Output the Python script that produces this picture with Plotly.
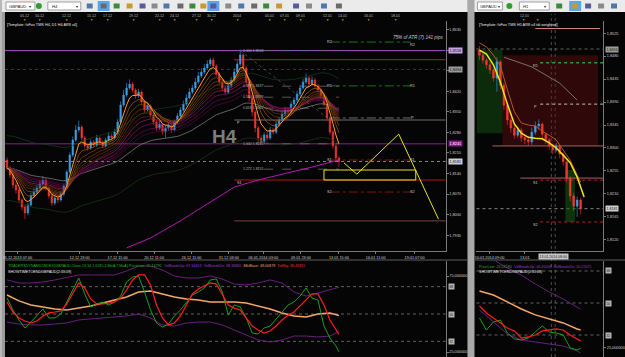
import plotly.graph_objects as go
import pandas as pd

W, H = 625, 357
FONT = "Liberation Sans, Arial, sans-serif"

# ============================ DATA ============================
# ---- Left window: GBPAUD H4 (bar index 0..111) ----
L_OPEN_FIRST = 1.8186
L_CLOSE = [1.8159, 1.8135, 1.8101, 1.8084, 1.8050, 1.8026, 1.8006, 1.8033, 1.8064, 1.8077,
           1.8091, 1.8104, 1.8118, 1.8091, 1.8064, 1.8040, 1.8057, 1.8050, 1.8070, 1.8098,
           1.8145, 1.8203, 1.8254, 1.8288, 1.8298, 1.8261, 1.8234, 1.8227, 1.8247, 1.8237,
           1.8261, 1.8247, 1.8234, 1.8254, 1.8268, 1.8261, 1.8281, 1.8315, 1.8373, 1.8407,
           1.8431, 1.8444, 1.8424, 1.8404, 1.8417, 1.8383, 1.8356, 1.8370, 1.8339, 1.8315,
           1.8295, 1.8308, 1.8281, 1.8295, 1.8302, 1.8288, 1.8315, 1.8336, 1.8356, 1.8376,
           1.8397, 1.8417, 1.8431, 1.8451, 1.8472, 1.8485, 1.8499, 1.8512, 1.8526, 1.8506,
           1.8478, 1.8451, 1.8431, 1.8417, 1.8438, 1.8458, 1.8485, 1.8512, 1.8543, 1.8499,
           1.8451, 1.8397, 1.8349, 1.8295, 1.8261, 1.8247, 1.8271, 1.8261, 1.8288, 1.8281,
           1.8308, 1.8322, 1.8342, 1.8356, 1.8349, 1.8376, 1.8390, 1.8410, 1.8431, 1.8451,
           1.8465, 1.8444, 1.8458, 1.8438, 1.8424, 1.8404, 1.8376, 1.8329, 1.8281, 1.8234,
           1.8193, 1.8181]
L_HIGH = [1.8195, 1.8166, 1.8142, 1.8110, 1.8092, 1.8058, 1.8033, 1.8040, 1.8075, 1.8090,
          1.8102, 1.8118, 1.8132, 1.8125, 1.8096, 1.8070, 1.8066, 1.8064, 1.8078, 1.8106,
          1.8152, 1.8212, 1.8266, 1.8305, 1.8320, 1.8304, 1.8268, 1.8242, 1.8256, 1.8255,
          1.8272, 1.8266, 1.8252, 1.8262, 1.8280, 1.8276, 1.8292, 1.8325, 1.8385, 1.8425,
          1.8448, 1.8460, 1.8452, 1.8430, 1.8428, 1.8422, 1.8390, 1.8380, 1.8375, 1.8345,
          1.8322, 1.8318, 1.8312, 1.8304, 1.8312, 1.8308, 1.8324, 1.8346, 1.8366, 1.8388,
          1.8410, 1.8430, 1.8442, 1.8465, 1.8485, 1.8498, 1.8512, 1.8525, 1.8533, 1.8534,
          1.8512, 1.8485, 1.8458, 1.8440, 1.8447, 1.8468, 1.8497, 1.8525, 1.8562, 1.8548,
          1.8505, 1.8458, 1.8405, 1.8355, 1.8302, 1.8270, 1.8280, 1.8282, 1.8298, 1.8296,
          1.8318, 1.8332, 1.8352, 1.8366, 1.8365, 1.8386, 1.8400, 1.8420, 1.8442, 1.8462,
          1.8480, 1.8472, 1.8470, 1.8465, 1.8445, 1.8430, 1.8410, 1.8382, 1.8335, 1.8288,
          1.8240, 1.8200]
L_LOW = [1.8150, 1.8125, 1.8090, 1.8072, 1.8041, 1.8015, 1.7985, 1.7998, 1.8028, 1.8058,
         1.8070, 1.8085, 1.8098, 1.8082, 1.8055, 1.8030, 1.8032, 1.8040, 1.8044, 1.8063,
         1.8092, 1.8140, 1.8196, 1.8248, 1.8280, 1.8252, 1.8225, 1.8218, 1.8220, 1.8228,
         1.8230, 1.8240, 1.8226, 1.8228, 1.8248, 1.8252, 1.8255, 1.8274, 1.8308, 1.8366,
         1.8400, 1.8425, 1.8415, 1.8394, 1.8398, 1.8375, 1.8346, 1.8350, 1.8330, 1.8305,
         1.8285, 1.8288, 1.8272, 1.8262, 1.8285, 1.8278, 1.8282, 1.8308, 1.8330, 1.8350,
         1.8370, 1.8392, 1.8410, 1.8425, 1.8445, 1.8465, 1.8478, 1.8492, 1.8505, 1.8498,
         1.8470, 1.8442, 1.8420, 1.8408, 1.8410, 1.8430, 1.8450, 1.8478, 1.8505, 1.8490,
         1.8440, 1.8385, 1.8335, 1.8280, 1.8245, 1.8240, 1.8242, 1.8252, 1.8255, 1.8272,
         1.8275, 1.8300, 1.8315, 1.8335, 1.8340, 1.8342, 1.8368, 1.8382, 1.8404, 1.8425,
         1.8445, 1.8436, 1.8438, 1.8430, 1.8415, 1.8395, 1.8368, 1.8320, 1.8272, 1.8225,
         1.8185, 1.8162]

L_TIME_TICK_BARS = [3.5, 24.3, 37.0, 49.2, 61.7, 74.2, 85.7, 98.3, 111.0, 123.3, 136.3]
L_TIME_TICK_TEXT = ["05.12.2013 07:00", "12.12 23:00", "17.12 15:00", "20.12 11:00", "26.12 11:00",
                    "31.12 03:00", "06.01.2014 03:00", "09.01 23:00", "13.01 15:00", "16.01 11:00",
                    "19.01 07:00"]
L_PRICE_TICKS = [1.8630, 1.8560, 1.8490, 1.8420, 1.8350, 1.8280, 1.8210, 1.8140, 1.8070, 1.8000, 1.7930]
L_STRIP_BARS = [5.7, 11, 20, 28.3, 33.7, 42.3, 51, 56, 63.3, 68.3, 77, 87.7, 92.7, 98.3, 107.3, 112.3, 121, 130]
L_STRIP_TEXT = ["05.12", "10.12", "12.12", "15.12", "17.12", "19.12", "22.12", "24.12", "27.12", "30.12",
                "2014", "05.01", "07.01", "09.01", "12.01", "14.01", "16.01", "18.01"]

# slow magenta average
L_SLOW_BARS = [40, 48, 58, 68, 76, 84, 94, 102, 111]
L_SLOW_VALS = [1.7887, 1.7921, 1.7979, 1.8043, 1.8094, 1.8118, 1.8142, 1.8162, 1.8186]

# horizontal levels
L_HI_LINE = 1.8558
L_GREY_LINE = 1.8494
L_LO_LINE = 1.8241
L_CURRENT = 1.8181
W_R1, W_P, W_S1, W_S2 = 1.8527, 1.8322, 1.8118, 1.7979
D_R2, D_R1, D_P, D_S1, D_S2 = 1.8587, 1.8438, 1.8329, 1.8186, 1.8077
FIB_HIGH, FIB_LOW = 1.8558, 1.8241
FIB_RATIOS = [0.0, 0.382, 0.5, 0.618, 1.0, 1.272]
FIB_TREND = ([78, 108], [1.8558, 1.8322])

# projected path & target zone
PROJ_BARS = [112.7, 117, 131, 136.7, 144.3]
PROJ_VALS = [1.8176, 1.8138, 1.8274, 1.8152, 1.7985]
ZONE = [106, 136.7, 1.8118, 1.8152]

# ---- Left indicator: Traders Dynamic Index ----
TDI_BARS = list(range(0, 112, 2)) + [111]
TDI_PRICE = [60.5, 52.6, 46.1, 40.8, 44.7, 48.7, 53.3, 47.4, 47.4, 50.0,
             57.9, 66.4, 73.7, 63.2, 54.6, 56.6, 57.9, 55.9, 57.9, 61.8,
             71.1, 74.3, 75.0, 64.5, 52.6, 44.1, 41.4, 43.4, 48.7, 52.6,
             57.2, 62.5, 64.5, 67.1, 72.4, 73.0, 64.5, 49.3, 55.9, 54.6,
             47.4, 37.5, 36.8, 40.8, 42.1, 46.7, 52.0, 55.9, 57.9, 61.8,
             67.1, 60.5, 59.2, 42.1, 34.2, 29.0, 25.2]
TDI_SIGNAL = [57.9, 51.3, 47.4, 45.4, 44.1, 45.4, 48.7, 50.7, 51.3, 52.0,
              56.6, 63.2, 70.4, 67.1, 59.9, 56.6, 56.6, 57.2, 57.9, 60.5,
              65.8, 72.4, 75.7, 75.7, 69.1, 55.9, 47.4, 42.8, 44.1, 48.7,
              55.9, 63.2, 66.4, 68.4, 70.4, 69.7, 63.2, 55.9, 53.9, 52.6,
              47.4, 42.1, 39.5, 37.5, 38.8, 42.1, 46.1, 49.3, 51.3, 55.3,
              59.2, 63.2, 63.2, 55.9, 46.0, 39.0, 36.5]
TDI_BARS4 = list(range(0, 112, 4)) + [111]
TDI_BASE = [62.5, 58.6, 55.9, 54.6, 53.3, 52.6, 53.9, 55.3, 57.2, 59.2, 61.2, 64.5, 65.1, 63.2,
            61.2, 59.9, 59.2, 57.9, 57.9, 57.9, 57.2, 55.3, 53.3, 50.7, 48.7, 48.0, 50.0, 50.7, 49.0]
TDI_UP = [72.4, 70.4, 70.4, 71.1, 72.4, 74.3, 75.7, 75.7, 75.7, 75.7, 78.3, 81.6, 81.6, 78.9,
          75.0, 73.7, 73.7, 75.0, 73.0, 69.7, 69.1, 70.4, 72.4, 70.4, 64.5, 61.8, 63.8, 65.8, 67.6]
TDI_DN = [44.7, 43.4, 42.8, 42.8, 43.4, 44.1, 46.1, 46.7, 47.4, 48.0, 48.7, 50.0, 47.4, 42.8,
          42.1, 44.1, 44.7, 44.7, 42.8, 39.5, 36.2, 32.9, 31.6, 32.9, 35.5, 35.5, 34.9, 35.5, 38.4]
TDI_LEVELS = [68, 50, 32]

# ---- Right window: GBPAUD H1 (bar index 0..29) ----
R_OPEN_FIRST = 1.8492
R_CLOSE = [1.8482, 1.8472, 1.8463, 1.8453, 1.8437, 1.8469, 1.8423, 1.8384, 1.8355, 1.8339,
           1.8325, 1.8335, 1.8320, 1.8316, 1.8312, 1.8331, 1.8343, 1.8347, 1.8327, 1.8316,
           1.8304, 1.8296, 1.8304, 1.8288, 1.8273, 1.8241, 1.8206, 1.8186, 1.8198, 1.8181]
R_HIGH = [1.8500, 1.8486, 1.8476, 1.8468, 1.8458, 1.8478, 1.8472, 1.8428, 1.8390, 1.8360,
          1.8345, 1.8342, 1.8340, 1.8326, 1.8322, 1.8340, 1.8352, 1.8356, 1.8350, 1.8330,
          1.8320, 1.8308, 1.8310, 1.8306, 1.8292, 1.8275, 1.8245, 1.8212, 1.8205, 1.8202]
R_LOW = [1.8472, 1.8465, 1.8455, 1.8445, 1.8430, 1.8410, 1.8415, 1.8375, 1.8345, 1.8330,
         1.8318, 1.8320, 1.8312, 1.8308, 1.8304, 1.8306, 1.8326, 1.8336, 1.8320, 1.8308,
         1.8296, 1.8288, 1.8292, 1.8280, 1.8265, 1.8232, 1.8196, 1.8176, 1.8165, 1.8170]
R_TIME_TICK_BARS = [2.9, 13.0]
R_TIME_TICK_TEXT = ["10.01.2014 09:00", "13.01"]
R_PRICE_TICKS = [1.8525, 1.8480, 1.8435, 1.8390, 1.8345, 1.8300, 1.8255, 1.8210, 1.8165, 1.8120]
R_YEL_BARS = [0, 2, 4, 6, 8, 10, 12, 14, 16, 18, 20, 22, 24, 26, 28, 30]
R_YEL_VALS = [1.8492, 1.8484, 1.8463, 1.8429, 1.8386, 1.8347, 1.8329, 1.8321, 1.8319, 1.8318,
              1.8310, 1.8300, 1.8286, 1.8271, 1.8243, 1.8204]
R_ORG_BARS = [0, 2, 4, 6, 8, 10, 12, 14, 16, 18, 20, 22, 24, 26, 28, 29]
R_ORG_VALS = [1.8506, 1.8498, 1.8482, 1.8461, 1.8414, 1.8371, 1.8349, 1.8345, 1.8343, 1.8333,
              1.8325, 1.8316, 1.8296, 1.8276, 1.8247, 1.8233]
R_GREY_BARS = [7, 15, 23, 28]
R_GREY_VALS = [1.8478, 1.8459, 1.8427, 1.8394]
R_GREY_LINE, R_CURRENT = 1.8494, 1.8181
R_R1, R_P, R_S1, R_S2 = 1.8467, 1.8386, 1.8237, 1.8155
R_SALMON = [(3.7, 1.8304), (11.7, 1.8241)]
R_ZONES = [(-0.86, 6.6, 1.8329, 1.8492, "rgba(20,90,20,0.45)"),
           (6.6, 34.0, 1.8304, 1.8482, "rgba(110,15,15,0.40)"),
           (24.6, 27.4, 1.8155, 1.8257, "rgba(20,90,20,0.55)")]
R_SEPARATORS = [20.6, 21.7]

# ---- Right indicator ----
RT_BARS = list(range(0, 30, 2)) + [29]
RT_PRICE = [41.6, 34.8, 39.3, 40.4, 33.1, 29.8, 29.2, 30.3, 33.7, 37.1, 33.7, 33.1, 32.0, 24.7, 23.6, 24.5]
RT_SIGNAL = [48.3, 44.4, 41.6, 38.8, 35.9, 34.3, 30.3, 30.9, 32.0, 34.3, 34.8, 35.4, 34.8, 32.0, 29.8, 28.6]
RT_BASE_BARS = [0, 4, 8, 12, 16, 20, 24, 28, 29]
RT_BASE = [56.7, 54.5, 50.6, 46.6, 43.3, 41.0, 38.8, 35.4, 34.8]
RT_UP_BARS = [2, 4, 6, 8, 12, 16, 20, 24, 28, 29]
RT_UP = [77.0, 74.2, 71.9, 69.7, 65.7, 60.7, 56.2, 52.2, 47.8, 46.5]
RT_DN_BARS = [0, 4, 8, 12, 16, 20, 24, 28, 29]
RT_DN = [46.1, 39.3, 32.6, 29.2, 28.1, 26.9, 25.8, 23.0, 21.9]

# ============================ FIGURE ============================
def px(x):
    return x / W


def py(y):
    return 1 - y / H


L_XR = [-0.667, 146.67]
R_XR = [-0.857, 35.43]
L_YR = [1.78766, 1.86586]
R_YR = [1.80981, 1.85489]
LI_YR = [21.71, 84.87]
RI_YR = [19.63, 73.62]

AX = "#7a7a7a"
TXT = "#cfcfcf"
BLUE = "#3d9fe6"
RED = "#f2392f"

fig = go.Figure()


def line(x, y, color, width=1, xa="x", ya="y", dash="solid"):
    fig.add_trace(go.Scatter(x=x, y=y, mode="lines", xaxis=xa, yaxis=ya,
                             line=dict(color=color, width=width, dash=dash),
                             hoverinfo="skip", showlegend=False))


# --- left main: moving averages derived from the candles ---
bars = list(range(len(L_CLOSE)))
cs = pd.Series(L_CLOSE)


def ema(n):
    return cs.ewm(span=n, adjust=False).mean()


env_mid = ema(60)
line(bars, (env_mid + 0.0110).tolist(), "#1a3e1a", 0.7)
line(bars, (env_mid - 0.0110).tolist(), "#1a3e1a", 0.7)
line(bars, ema(55).tolist(), "#8a8a8a", 0.7)
for n, c in [(40, "#520a44"), (34, "#6c0c54"), (28, "#8a1264"), (23, "#ad1874")]:
    line(bars, ema(n).tolist(), c, 0.7)
for n, c in [(20, "#5a2a08"), (17, "#6e340a"), (14, "#80400c"), (11, "#94500e"), (8, "#a85e12")]:
    line(bars, ema(n).tolist(), c, 0.7)
line(L_SLOW_BARS, L_SLOW_VALS, "#b01cb0", 1)

opens = [L_OPEN_FIRST] + L_CLOSE[:-1]
fig.add_trace(go.Candlestick(x=bars, open=opens, high=L_HIGH, low=L_LOW, close=L_CLOSE,
                             xaxis="x", yaxis="y", whiskerwidth=0,
                             increasing=dict(line=dict(color=BLUE, width=0.6), fillcolor=BLUE),
                             decreasing=dict(line=dict(color=RED, width=0.6), fillcolor=RED),
                             hoverinfo="skip", showlegend=False))
line(bars, ema(5).tolist(), "#ff9c2a", 1)
line(FIB_TREND[0], FIB_TREND[1], "#5e5e5e", 0.7, dash="dot")
line(PROJ_BARS, PROJ_VALS, "#e8e41c", 1)

# --- left indicator ---
line(TDI_BARS4, TDI_UP, "#6a1f7c", 1, "x2", "y2")
line(TDI_BARS4, TDI_DN, "#6a1f7c", 1, "x2", "y2")
line(TDI_BARS4, TDI_BASE, "#f2a868", 1.5, "x2", "y2")
line(TDI_BARS, TDI_PRICE, "#1aa01a", 1, "x2", "y2")
line(TDI_BARS, TDI_SIGNAL, "#ff1e1e", 1.2, "x2", "y2")

# --- right main ---
rbars = list(range(len(R_CLOSE)))
line(R_GREY_BARS, R_GREY_VALS, "#8a8a8a", 0.8, "x3", "y3")
ropens = [R_OPEN_FIRST] + R_CLOSE[:-1]
fig.add_trace(go.Candlestick(x=rbars, open=ropens, high=R_HIGH, low=R_LOW, close=R_CLOSE,
                             xaxis="x3", yaxis="y3", whiskerwidth=0,
                             increasing=dict(line=dict(color=BLUE, width=0.6), fillcolor=BLUE),
                             decreasing=dict(line=dict(color=RED, width=0.6), fillcolor=RED),
                             hoverinfo="skip", showlegend=False))
line(R_ORG_BARS, R_ORG_VALS, "#b8581a", 1, "x3", "y3")
line(R_YEL_BARS, R_YEL_VALS, "#f0e41e", 1.5, "x3", "y3")

# --- right indicator ---
line(RT_UP_BARS, RT_UP, "#6a1f7c", 1, "x4", "y4")
line(RT_DN_BARS, RT_DN, "#6a1f7c", 1, "x4", "y4")
line(RT_BASE_BARS, RT_BASE, "#f2a868", 1.5, "x4", "y4")
line(RT_BARS, RT_PRICE, "#1aa01a", 1, "x4", "y4")
line(RT_BARS, RT_SIGNAL, "#ff1e1e", 1.2, "x4", "y4")

# ============================ SHAPES ============================
shapes = []


def rect_px(x0, y0, x1, y1, fill, border=None, bw=0.8, layer="below"):
    shapes.append(dict(type="rect", xref="paper", yref="paper", x0=px(x0), x1=px(x1),
                       y0=py(y1), y1=py(y0), fillcolor=fill, layer=layer,
                       line=dict(width=bw if border else 0, color=border or fill)))


def seg(xref, yref, x0, x1, y0, y1, color, width=1, dash="solid", layer="below"):
    shapes.append(dict(type="line", xref=xref, yref=yref, x0=x0, x1=x1, y0=y0, y1=y1,
                       line=dict(color=color, width=width, dash=dash), layer=layer))


# window chrome
rect_px(0, 0, 467, 12, "#ebebeb")
rect_px(470, 0, 625, 12, "#ebebeb")
rect_px(467, 0, 474, 357, "#a9a9a9")
rect_px(0, 12, 3, 357, "#9c9c9c")
rect_px(3, 12, 467, 357, "#050505")
rect_px(474, 12, 625, 357, "#050505")
# toolbar widgets
rect_px(4, 2, 33, 10, "#ffffff", "#8a8a8a")
rect_px(46, 2, 79, 10, "#ffffff", "#8a8a8a")
rect_px(477, 2, 502, 10, "#ffffff", "#8a8a8a")
rect_px(519, 2, 549, 10, "#ffffff", "#8a8a8a")
shapes.append(dict(type="circle", xref="paper", yref="paper", x0=px(34), x1=px(40), y0=py(9), y1=py(3),
                   fillcolor="#2e9e2e", line=dict(width=0), layer="below"))
shapes.append(dict(type="circle", xref="paper", yref="paper", x0=px(506), x1=px(512), y0=py(9), y1=py(3),
                   fillcolor="#2e9e2e", line=dict(width=0), layer="below"))
for hx in [96, 206, 569]:
    rect_px(hx, 1, hx + 12, 11, "#5aa6ee")
icon_cols = ["#4f78a8", "#6a6a6a", "#3a8a3a", "#c89a28", "#5a5a9a", "#8a8a8a"]
left_icons = [85, 99, 112, 125, 138, 150, 162, 176, 188, 199, 209, 224, 237, 250, 262, 275, 292, 305, 320, 335]
for k, ix in enumerate(left_icons):
    rect_px(ix, 3.5, ix + 6, 8.5, icon_cols[k % len(icon_cols)])
for k, ix in enumerate([556, 572, 585, 598, 611]):
    rect_px(ix, 3.5, ix + 6, 8.5, icon_cols[(k + 2) % len(icon_cols)])

# panel separators
seg("paper", "paper", px(3), px(467), py(260), py(260), "#5e5e5e", 1)
seg("paper", "paper", px(474), px(625), py(260), py(260), "#5e5e5e", 1)

# left horizontal levels
seg("x domain", "y", 0, 1, L_HI_LINE, L_HI_LINE, "#9a55c8", 1)
seg("x domain", "y", 0, 1, L_GREY_LINE, L_GREY_LINE, "#4a4a4a", 0.8, "dot")
seg("x", "y", 76, L_XR[1], W_R1, W_R1, "#7a3a2c", 1)
seg("x", "y", 76, L_XR[1], W_P, W_P, "#6e6e6e", 1)
seg("x domain", "y", 0, 1, L_LO_LINE, L_LO_LINE, "#8c1a8c", 1)
seg("x domain", "y", 0, 1, L_CURRENT, L_CURRENT, "#a8a8a8", 0.8, "dot")
seg("x", "y", 76, L_XR[1], W_S1, W_S1, "#b41414", 1)
seg("x", "y", 76, L_XR[1], W_S2, W_S2, "#7a4444", 1)
for lv, col in [(D_R2, "#2a8a2a"), (D_R1, "#2a8a2a"), (D_P, "#8a8a8a"), (D_S1, "#a01818"), (D_S2, "#a01818")]:
    seg("x", "y", 108.3, 135.0, lv, lv, col, 0.8, "dashdot")
for r in FIB_RATIOS:
    lv = FIB_HIGH - r * (FIB_HIGH - FIB_LOW)
    seg("x", "y", 86, 111, lv, lv, "#6c6c6c", 0.8, "dash")
shapes.append(dict(type="rect", xref="x", yref="y", x0=ZONE[0], x1=ZONE[1], y0=ZONE[2], y1=ZONE[3],
                   line=dict(color="#e8e41c", width=1), fillcolor="rgba(0,0,0,0)", layer="above"))
# left indicator levels
for lv in TDI_LEVELS:
    seg("x2 domain", "y2", 0, 1, lv, lv, "#7a7a7a", 0.8, "dot")

# right zones and levels
for x0, x1, y0, y1, col in R_ZONES:
    shapes.append(dict(type="rect", xref="x3", yref="y3", x0=x0, x1=x1, y0=y0, y1=y1,
                       fillcolor=col, line=dict(width=0), layer="below"))
seg("x3 domain", "y3", 0, 1, R_GREY_LINE, R_GREY_LINE, "#7a7a7a", 0.8, "dot")
seg("x3 domain", "y3", 0, 1, R_CURRENT, R_CURRENT, "#a8a8a8", 0.8, "dot")
for x0, lv in R_SALMON:
    seg("x3", "y3", x0, R_XR[1], lv, lv, "#a86060", 1)
seg("x3", "y3", 17.4, R_XR[1], R_R1, R_R1, "#2aa02a", 1.5, "dot")
seg("x3", "y3", 17.4, R_XR[1], R_P, R_P, "#c0c0c0", 1, "dot")
seg("x3", "y3", 17.4, R_XR[1], R_S1, R_S1, "#c02020", 1, "dot")
seg("x3", "y3", 17.4, R_XR[1], R_S2, R_S2, "#c02020", 1, "dot")
for sx in R_SEPARATORS:
    seg("x3", "paper", sx, sx, 0, py(14), "#5e5e5e", 0.8, "dot")
for lv in TDI_LEVELS:
    seg("x4 domain", "y4", 0, 1, lv, lv, "#7a7a7a", 0.8, "dot")
seg("paper", "paper", px(535), px(600), py(28.5), py(28.5), "#d88080", 1)

# ============================ ANNOTATIONS ============================
anns = []


def text(x, y, s, size=3.8, color=TXT, xref="paper", yref="paper", xanchor="left",
         yanchor="middle", bg=None, **kw):
    a = dict(x=x, y=y, xref=xref, yref=yref, text=s, showarrow=False, xanchor=xanchor,
             yanchor=yanchor, font=dict(size=size, color=color, family=FONT), borderpad=0)
    if bg:
        a["bgcolor"] = bg
        a["borderpad"] = 0.6
    a.update(kw)
    anns.append(a)


# toolbar text
text(px(6), py(6.2), "GBPAUD  \u25be", 4.2, "#202020")
text(px(49), py(6.2), "H4", 4.2, "#202020")
text(px(73), py(6.2), "\u25be", 4.2, "#202020")
text(px(479), py(6.2), "GBPAUD \u25be", 4.0, "#202020")
text(px(522), py(6.2), "H1", 4.2, "#202020")
text(px(543), py(6.2), "\u25be", 4.2, "#202020")

# top date strips
for b, s in zip(L_STRIP_BARS, L_STRIP_TEXT):
    text(b, py(16), s, 3.6, "#bdbdbd", xref="x", xanchor="center")
    text(b, py(19.6), "\u25bc", 3.2, "#d8a800", xref="x", xanchor="center")
text(px(524), py(16), "12.01", 3.6, "#bdbdbd", xanchor="center")
text(px(523), py(19.6), "\u25bc", 3.2, "#d8a800", xanchor="center")
text(px(537), py(19.6), "\u25bc", 3.2, "#d8a800", xanchor="center")

# templates & watermark
text(px(4), py(25), "[Template: fxFox TMS H4, D1 H4 AR8 v4]", 3.8, "#e8e8e8")
text(px(478), py(25), "[Template: fxFox TMS H1 AR8 v4 tdi weighted]", 3.8, "#e8e8e8")
text(px(223), py(136), "<b>H4</b>", 19, "#7c7c7c", xanchor="center")
text(px(443), py(37.5), "<i>75% of ATR (7) 141 pips</i>", 4.6, "#c8c8c8", xanchor="right")

# pivot labels
text(107.7, D_R2, "R2", 3.8, "#c8c8c8", xref="x", yref="y", xanchor="center")
text(135.7, D_R2, "R2", 3.8, "#c8c8c8", xref="x", yref="y", xanchor="center", yanchor="top")
for lv, lab in [(D_R1, "R1"), (D_S1, "S1"), (D_S2, "S2")]:
    text(107.7, lv, lab, 3.8, "#c8c8c8", xref="x", yref="y", xanchor="center")
    text(135.7, lv, lab, 3.8, "#c8c8c8", xref="x", yref="y", xanchor="center")
text(135.7, D_P, "P", 3.8, "#c8c8c8", xref="x", yref="y", xanchor="center")
text(76.5, W_P, "P", 3.8, "#c8c8c8", xref="x", yref="y", xanchor="left", yanchor="top")
text(76.5, W_S1, "S1", 3.8, "#c8c8c8", xref="x", yref="y", xanchor="left", yanchor="top")

# fibonacci labels
for r in FIB_RATIOS:
    lv = FIB_HIGH - r * (FIB_HIGH - FIB_LOW)
    lab = f"{r:.3f} {lv:.4f}"
    text(78.5, lv, lab, 3.5, "#b0b0b0", xref="x", yref="y", xanchor="left", yanchor="middle")

# right-axis price boxes (left window)
text(px(447), L_HI_LINE, "1,8558", 3.8, "#101010", yref="y", bg="#c9a2e2")
text(px(447), L_GREY_LINE, "1,8494", 3.8, "#101010", yref="y", bg="#9c9c9c")
text(px(447), L_LO_LINE, "1,8241", 3.8, "#ffffff", yref="y", bg="#8a1a8a")
text(px(447), L_CURRENT, "1,8181", 3.8, "#101010", yref="y", bg="#cfcfcf")

# right window labels
for lv, lab in [(R_R1, "R1"), (R_P, "P"), (R_S1, "S1"), (R_S2, "S2")]:
    text(16.0, lv, lab, 3.8, "#c8c8c8", xref="x3", yref="y3", xanchor="center", yanchor="top")
text(px(605), R_GREY_LINE, "1,8494", 3.6, "#101010", yref="y3", bg="#9c9c9c")
text(px(605), R_CURRENT, "1,8181", 3.6, "#101010", yref="y3", bg="#cfcfcf")
text(21.1, py(256), "13.01.2014 08:00", 3.5, "#101010", xref="x3", xanchor="center", bg="#c8c8c8")

# indicator headers
hdr_l = ('<span style="color:#22b022">TRADERSDYNAMICINDEX(GBPAUD,Close,13,34,1.6185,2,MoA,7,MoA) '
         'PriceLine: 25,16791</span>  <span style="color:#9a3ac0">VolBandsUp: 67,64413  '
         'VolBandsDn: 38,36865</span>  <span style="color:#f0a060">MktBase: 49,00879</span>  '
         '<span style="color:#ff2a2a">TrdSig: 36,45811</span>')
text(px(5), py(266), hdr_l, 3.7)
text(px(5), py(271.5), "SHOWTIMETOENDGBPAUD(2:33:09)", 3.7, "#f0f0f0")
hdr_r = ('<span style="color:#22b022">PriceLine: 24,52180</span>  <span style="color:#9a3ac0">'
         'VolBandsUp: 46,45058  VolBandsDn: 20,22071</span>')
text(px(478), py(266.5), hdr_r, 3.7)
text(px(478), py(271.5), "SHOWTIMETOENDGBPAUD(0:33:08)", 3.7, "#f0f0f0")

# indicator level boxes
for lv in TDI_LEVELS:
    text(px(447), lv, str(lv), 3.2, "#101010", yref="y2", bg="#b4b4b4")
    text(px(605), lv, str(lv), 3.2, "#101010", yref="y4", bg="#b4b4b4")


def fmt(v):
    return f"{v:.4f}".replace(".", ",")


axis_common = dict(showgrid=False, zeroline=False, fixedrange=True)
tickfont = dict(size=3.8, color=TXT, family=FONT)

fig.update_layout(
    width=W, height=H, margin=dict(l=0, r=0, t=0, b=0),
    paper_bgcolor="#b8b8b8", plot_bgcolor="rgba(0,0,0,0)",
    showlegend=False, hovermode=False,
    shapes=shapes, annotations=anns,
    xaxis=dict(domain=[px(3), px(445)], range=L_XR, anchor="y", showline=True, linecolor=AX,
               tickmode="array", tickvals=L_TIME_TICK_BARS, ticktext=L_TIME_TICK_TEXT,
               ticks="outside", ticklen=2, tickcolor=AX, tickfont=tickfont,
               rangeslider=dict(visible=False), **axis_common),
    yaxis=dict(domain=[py(251), py(21)], range=L_YR, anchor="x", side="right", showline=True,
               linecolor=AX, tickmode="array", tickvals=L_PRICE_TICKS,
               ticktext=[fmt(v) for v in L_PRICE_TICKS], ticks="outside", ticklen=2,
               tickcolor=AX, tickfont=tickfont, **axis_common),
    xaxis2=dict(domain=[px(3), px(445)], range=L_XR, anchor="y2", showline=False,
                showticklabels=False, ticks="", **axis_common),
    yaxis2=dict(domain=[0, py(261)], range=LI_YR, anchor="x2", side="right", showline=True,
                linecolor=AX, tickmode="array", tickvals=[75, 25],
                ticktext=["75,000000", "25,000000"], ticks="outside", ticklen=2,
                tickcolor=AX, tickfont=tickfont, **axis_common),
    xaxis3=dict(domain=[px(476), px(603)], range=R_XR, anchor="y3", showline=True, linecolor=AX,
                tickmode="array", tickvals=R_TIME_TICK_BARS, ticktext=R_TIME_TICK_TEXT,
                ticks="outside", ticklen=2, tickcolor=AX, tickfont=tickfont,
                rangeslider=dict(visible=False), **axis_common),
    yaxis3=dict(domain=[py(251), py(21)], range=R_YR, anchor="x3", side="right", showline=True,
                linecolor=AX, tickmode="array", tickvals=R_PRICE_TICKS,
                ticktext=[fmt(v) for v in R_PRICE_TICKS], ticks="outside", ticklen=2,
                tickcolor=AX, tickfont=tickfont, **axis_common),
    xaxis4=dict(domain=[px(476), px(603)], range=R_XR, anchor="y4", showline=False,
                showticklabels=False, ticks="", **axis_common),
    yaxis4=dict(domain=[0, py(261)], range=RI_YR, anchor="x4", side="right", showline=True,
                linecolor=AX, tickmode="array", tickvals=[25], ticktext=["25,000000"],
                ticks="outside", ticklen=2, tickcolor=AX, tickfont=tickfont, **axis_common),
)

fig.write_html("out.html", config={"displayModeBar": False})
